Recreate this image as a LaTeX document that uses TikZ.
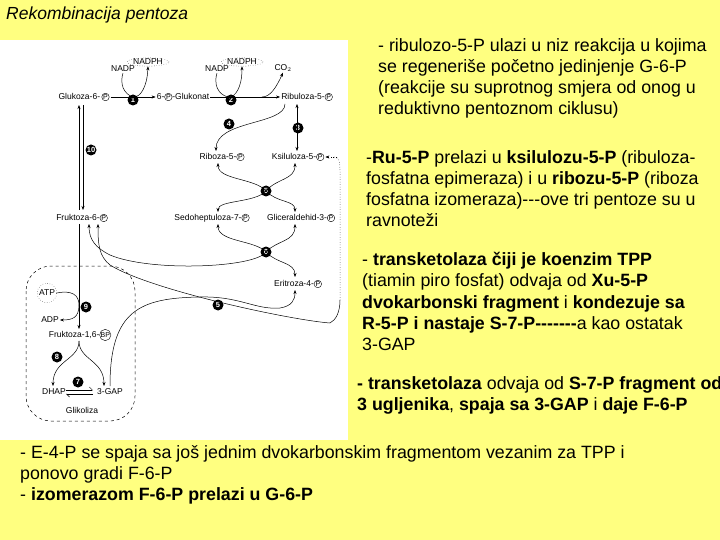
\documentclass[tikz,border=0pt]{standalone}
\usepackage{fontspec}
\setmainfont{Liberation Sans}
\usetikzlibrary{arrows.meta,shapes.geometric}
\definecolor{bgy}{RGB}{255,255,128}
\newcommand{\Pc}[1][P]{\tikz[baseline=(pp.base)]\node[circle,draw,inner sep=0.3pt,font=\fontsize{7}{7}\selectfont](pp){#1};}
\begin{document}
\begin{tikzpicture}[x=1pt,y=-1pt,
  lab/.style={font=\fontsize{8.5}{9}\selectfont,inner sep=1pt},
  num/.style={circle,fill=black,text=white,inner sep=0pt,minimum size=11pt,font=\fontsize{7.5}{7.5}\selectfont\bfseries},
  ln/.style={line width=0.5pt,-{Stealth[length=4pt,width=3pt]}},
  body/.style={anchor=north west,align=left,inner sep=0pt,font=\fontsize{17.8}{21.3}\selectfont}]
\useasboundingbox (0,0) rectangle (720,540);
\clip (0,0) rectangle (720,540);
\fill[bgy] (0,0) rectangle (720,540);
\fill[white] (0,40) rectangle (348,440);
\node[anchor=west,font=\itshape\fontsize{17.5}{18}\selectfont,inner sep=0pt] (title) at (6,15) {Rekombinacija pentoza};
% diagram nodes
\node[lab] (g6p) at (84,97) {Glukoza-6-\,\Pc};
\node[lab] (glk) at (183,97) {6-\Pc-Glukonat};
\node[lab] (ru5p) at (307,97) {Ribuloza-5-\Pc};
\node[lab] (nadp1) at (123,69) {NADP};
\node[lab,draw,dotted,ellipse,inner sep=0pt] (nadph1) at (148,62) {NADPH};
\node[lab] (nadp2) at (217,69) {NADP};
\node[lab,draw,dotted,ellipse,inner sep=0pt] (nadph2) at (242,62) {NADPH};
\node[lab] (co2) at (283,68) {CO$_2$};
\node[lab] (r5p) at (222,157) {Riboza-5-\Pc};
\node[lab] (x5p) at (298,157) {Ksiluloza-5-\Pc};
\node[lab] (s7p) at (212,218) {Sedoheptuloza-7-\Pc};
\node[lab] (ga3p) at (301,218) {Gliceraldehid-3-\Pc};
\node[lab] (f6p) at (82,218) {Fruktoza-6-\Pc};
\node[lab] (e4p) at (298,284) {Eritroza-4-\Pc};
\node[lab,draw,dotted,circle,inner sep=1pt] (atp) at (47,293) {ATP};
\node[lab] (adp) at (50,320) {ADP};
\node[lab] (fbp) at (80,335) {Fruktoza-1,6-\Pc[BP]};
\node[lab] (dhap) at (54,392) {DHAP};
\node[lab] (gap) at (110,392) {3-GAP};
\node[lab] (glik) at (82,410) {Glikoliza};
\node[num] (n1) at (133,100) {1};
\node[num] (n2) at (231,100) {2};
\node[num] (n3) at (298,128) {3};
\node[num] (n4) at (229,124) {4};
\node[num] (n5a) at (266,191) {5};
\node[num] (n6) at (266,252) {6};
\node[num] (n5b) at (218,305) {5};
\node[num] (n10) at (91,150) {10};
\node[num] (n9) at (86,307) {9};
\node[num] (n8) at (57,357) {8};
\node[num] (n7) at (78,382) {7};
% dashed glycolysis box
\draw[dashed,line width=0.5pt,rounded corners=25pt] (26,266) rectangle (135,421);
% reactions 1 and 2
\draw[ln] (g6p.east) -- (glk.west);
\draw[line width=0.5pt] (nadp1.south) .. controls (118,90) and (130,97) .. (134,97);
\draw[ln] (134,97) .. controls (140,97) and (147,88) .. (nadph1.south);
\draw[ln] (glk.east) -- (ru5p.west);
\draw[line width=0.5pt] (nadp2.south) .. controls (212,90) and (224,97) .. (229,97);
\draw[ln] (229,97) .. controls (235,97) and (242,88) .. (nadph2.south);
\draw[ln] (262,97) .. controls (270,97) and (276,88) .. (co2.south);
% 3 and 4
\draw[line width=0.5pt,{Stealth[length=4pt,width=3pt]}-{Stealth[length=4pt,width=3pt]}] (297,104) -- (297,151);
\draw[ln] (285,104) .. controls (285,125) and (216,120) .. (216,151);
% 10
\draw[ln] (79,210) -- (79,105);
\draw[ln] (83,105) -- (83,210);
% 5 crossing
\draw[ln] (266,191) .. controls (255,178) and (218,180) .. (218,163);
\draw[ln] (266,191) .. controls (277,178) and (295,180) .. (295,163);
\draw[ln] (266,191) .. controls (255,203) and (218,200) .. (218,212);
\draw[ln] (266,191) .. controls (277,203) and (295,200) .. (295,212);
% 6 crossing
\draw[ln] (266,252) .. controls (255,240) and (218,242) .. (218,224);
\draw[ln] (266,252) .. controls (277,240) and (295,242) .. (295,224);
\draw[ln] (266,252) .. controls (277,264) and (295,262) .. (295,277);
\draw[ln] (266,252) .. controls (255,268) and (150,272) .. (110,255) .. controls (96,248) and (89,240) .. (89,224);
% long curve to Ksiluloza
\draw[ln] (330,323) .. controls (290,320) and (150,290) .. (110,265) .. controls (99,256) and (98,245) .. (98,224);
\draw[line width=0.5pt] (330,323) .. controls (336,320) and (340,312) .. (340,300);
\draw[line width=0.5pt,dotted] (340,300) -- (340,170) .. controls (340,160) and (338,157) .. (334,157);
\draw[ln,dotted] (336,157) -- (x5p.east);
% second 5: to Eritroza and 3-GAP
\draw[ln] (110,386) .. controls (110,310) and (140,298) .. (200,297) .. controls (240,296) and (255,310) .. (280,308) .. controls (292,306) and (295,300) .. (295,290);
% 9
\draw[ln] (79,224) -- (79,329);
\draw[line width=0.5pt] (atp.east) .. controls (72,290) and (79,295) .. (79,305);
\draw[ln] (79,305) .. controls (79,318) and (72,320) .. (adp.east);
% 8
\draw[ln] (79,341) .. controls (79,360) and (53,360) .. (53,386);
\draw[ln] (79,341) .. controls (79,360) and (104,360) .. (104,386);
% 7
\draw[line width=0.5pt,-{Straight Barb[left,length=3pt]}] (66,390) -- (93,390);
\draw[line width=0.5pt,-{Straight Barb[left,length=3pt]}] (93,394) -- (66,394);
% right texts
\node[body] (t1) at (378,38) {- ribulozo-5-P ulazi u niz reakcija u kojima\\se regeneriše početno jedinjenje G-6-P\\(reakcije su suprotnog smjera od onog u\\reduktivno pentoznom ciklusu)};
\node[body] (t2) at (366,150) {-\textbf{Ru-5-P} prelazi u \textbf{ksilulozu-5-P} (ribuloza-\\fosfatna epimeraza) i u \textbf{ribozu-5-P} (riboza\\fosfatna izomeraza){-}{-}{-}ove tri pentoze su u\\ravnoteži};
\node[body] (t3) at (362,252) {- \textbf{transketolaza čiji je koenzim TPP}\\(tiamin piro fosfat) odvaja od \textbf{Xu-5-P}\\\textbf{dvokarbonski fragment} i \textbf{kondezuje sa}\\\textbf{R-5-P i nastaje S-7-P{-}{-}{-}{-}{-}{-}{-}}a kao ostatak\\3-GAP};
\node[body] (t4) at (357,376) {\textbf{- transketolaza} odvaja od \textbf{S-7-P fragment od}\\\textbf{3 ugljenika}, \textbf{spaja sa 3-GAP} i \textbf{daje F-6-P}};
\node[body] (t5) at (20,445) {- E-4-P se spaja sa još jednim dvokarbonskim fragmentom vezanim za TPP i\\ponovo gradi F-6-P\\- \textbf{izomerazom F-6-P prelazi u G-6-P}};
\end{tikzpicture}
\end{document}
